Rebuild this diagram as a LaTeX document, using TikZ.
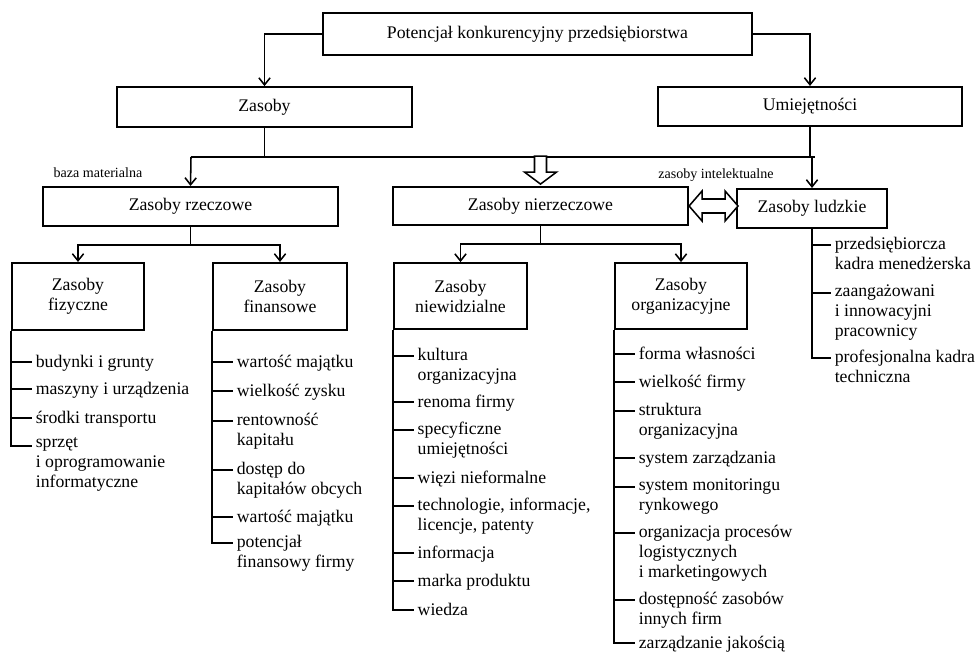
\documentclass[tikz,border=0pt]{standalone}
\usepackage{fontspec}
\setmainfont{Liberation Serif}
\usetikzlibrary{arrows.meta, positioning, calc}

\begin{document}
\begin{tikzpicture}[
      x=0.025cm, y=-0.025cm, % one unit is one pixel of the 979x652 sheet
      >={Straight Barb[length=5pt,width=8pt]},
      line width=1.1pt,
      font=\fontsize{12.6}{14.2}\selectfont,
      box/.style={
        rectangle,
        draw,
        align=center,
        inner sep=2pt,
        line width=1.3pt
      },
      item/.style={
        anchor=north west,
        align=left,
        inner sep=0pt,
        xshift=0.075cm,
        yshift=0.225cm,
        execute at begin node=\strut
      },
      tag/.style={font=\fontsize{10}{12}\selectfont, inner sep=0pt},
      hollow/.style={draw, fill=white, line width=1.1pt, line join=miter}
    ]
    \useasboundingbox (0,0) rectangle (979,652);

    % boxes
    \node[box, minimum width=10.73cm, minimum height=1.05cm] (pot) at (537.5,34) {Potencjał konkurencyjny przedsiębiorstwa};
    \node[box, minimum width=7.38cm, minimum height=1cm] (zas) at (264.5,107) {Zasoby};
    \node[box, minimum width=7.6cm, minimum height=0.98cm] (umi) at (810,106.5) {Umiejętności};
    \node[box, minimum width=7.38cm, minimum height=0.98cm] (rzecz) at (190.5,206.5) {Zasoby rzeczowe};
    \node[box, minimum width=7.38cm, minimum height=0.95cm] (nierz) at (540.5,206) {Zasoby nierzeczowe};
    \node[box, minimum width=3.75cm, minimum height=0.98cm] (ludz) at (812,208.5) {Zasoby ludzkie};
    \node[box, minimum width=3.3cm, minimum height=1.68cm] (fiz) at (78,296.5) {Zasoby\\fizyczne};
    \node[box, minimum width=3.35cm, minimum height=1.68cm] (fin) at (280,296.5) {Zasoby\\finansowe};
    \node[box, minimum width=3.33cm, minimum height=1.65cm] (niew) at (460.5,296) {Zasoby\\niewidzialne};
    \node[box, minimum width=3.3cm, minimum height=1.65cm] (org) at (681,296) {Zasoby\\organizacyjne};

    \node[tag] (baza) at (98,173) {baza materialna};
    \node[tag] (intel) at (716,175) {zasoby intelektualne};

    % top level
    \draw[->] (pot.west) -| (zas.north);
    \draw[->] (pot.east) -| (umi.north);
    \coordinate (barL) at (191,157);
    \coordinate (barR) at (815,157);
    \draw (zas.south) -- (zas.south |- barL);
    \draw (umi.south) -- (umi.south |- barL);
    \draw (barL) -- (barR);
    \draw[->] (barL) -- (rzecz.north);
    \draw[->] (ludz.north |- barL) -- (ludz.north);
    \draw[hollow] ($(nierz.north)+(0,-2)$) -- ++(-16,-12) -- ++(10,0) -- ++(0,-16) -- ++(12,0) -- ++(0,16) -- ++(10,0) -- cycle;
    \draw[hollow] (nierz.east) -- ++(13,-15) -- ++(0,8) -- ++(23,0) -- ++(0,-8) -- ++(13,15) -- ++(-13,15) -- ++(0,-8) -- ++(-23,0) -- ++(0,8) -- cycle;

    % second level
    \draw (rzecz.south) -- ++(0,18) coordinate (rzB);
    \draw[->] (rzB) -| (fiz.north);
    \draw[->] (rzB) -| (fin.north);
    \draw (nierz.south) -- ++(0,18) coordinate (nzB);
    \draw[->] (nzB) -| (niew.north);
    \draw[->] (nzB) -| (org.north);

    % fizyczne
    \draw (fiz.south west |- 0,362) -- ++(21,0) node[item] {budynki i grunty};
    \draw (fiz.south west |- 0,389) -- ++(21,0) node[item] {maszyny i urządzenia};
    \draw (fiz.south west |- 0,418) -- ++(21,0) node[item] {środki transportu};
    \draw (fiz.south west) -- (fiz.south west |- 0,446) -- ++(21,0) node[item] {sprzęt\\i oprogramowanie\\informatyczne};

    % finansowe
    \draw (fin.south west |- 0,362) -- ++(21,0) node[item] {wartość majątku};
    \draw (fin.south west |- 0,391) -- ++(21,0) node[item] {wielkość zysku};
    \draw (fin.south west |- 0,421) -- ++(21,0) node[item] {rentowność\\kapitału};
    \draw (fin.south west |- 0,470) -- ++(21,0) node[item] {dostęp do\\kapitałów obcych};
    \draw (fin.south west |- 0,517) -- ++(21,0) node[item] {wartość majątku};
    \draw (fin.south west) -- (fin.south west |- 0,543) -- ++(21,0) node[item] {potencjał\\finansowy firmy};

    % niewidzialne
    \draw (niew.south west |- 0,356) -- ++(21,0) node[item] {kultura\\organizacyjna};
    \draw (niew.south west |- 0,402) -- ++(21,0) node[item] {renoma firmy};
    \draw (niew.south west |- 0,430) -- ++(21,0) node[item] {specyficzne\\umiejętności};
    \draw (niew.south west |- 0,478) -- ++(21,0) node[item] {więzi nieformalne};
    \draw (niew.south west |- 0,506) -- ++(21,0) node[item] {technologie, informacje,\\licencje, patenty};
    \draw (niew.south west |- 0,553) -- ++(21,0) node[item] {informacja};
    \draw (niew.south west |- 0,581) -- ++(21,0) node[item] {marka produktu};
    \draw (niew.south west) -- (niew.south west |- 0,610) -- ++(21,0) node[item] {wiedza};

    % organizacyjne
    \draw (org.south west |- 0,354) -- ++(21,0) node[item] {forma własności};
    \draw (org.south west |- 0,382) -- ++(21,0) node[item] {wielkość firmy};
    \draw (org.south west |- 0,411) -- ++(21,0) node[item] {struktura\\organizacyjna};
    \draw (org.south west |- 0,458) -- ++(21,0) node[item] {system zarządzania};
    \draw (org.south west |- 0,487) -- ++(21,0) node[item] {system monitoringu\\rynkowego};
    \draw (org.south west |- 0,533) -- ++(21,0) node[item] {organizacja procesów\\logistycznych\\i marketingowych};
    \draw (org.south west |- 0,600) -- ++(21,0) node[item] {dostępność zasobów\\innych firm};
    \draw (org.south west) -- (org.south west |- 0,643) -- ++(21,0) node[item] {zarządzanie jakością};

    % ludzkie
    \draw (ludz.south |- 0,245) -- ++(19,0) node[item] {przedsiębiorcza\\kadra menedżerska};
    \draw (ludz.south |- 0,293) -- ++(19,0) node[item] {zaangażowani\\i innowacyjni\\pracownicy};
    \draw (ludz.south) -- (ludz.south |- 0,358) -- ++(19,0) node[item] {profesjonalna kadra\\techniczna};
  \end{tikzpicture}
\end{document}
